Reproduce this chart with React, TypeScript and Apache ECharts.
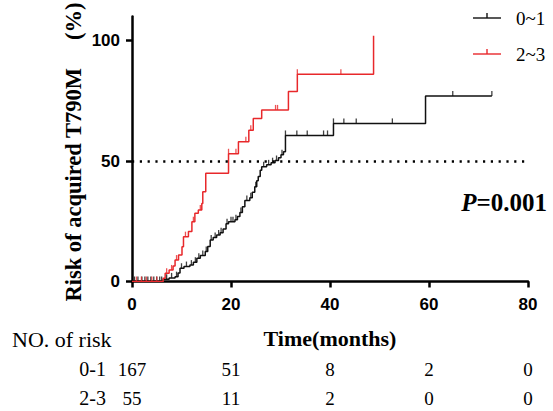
import React, { useEffect, useRef } from "react";
import * as echarts from "echarts";

// ---- data ----
const groupNames = ["0~1", "2~3"];
const groupColors = ["#111111", "#e8282b"];

// cumulative risk (%) steps: [time (months), value after the step]
const curve01: [number, number][] = [
  [0, 0], [6.3, 0.9], [7.5, 1.5], [8.7, 2.0], [9.3, 3.5], [9.7, 5.5], [10.5, 6.2],
  [11.7, 6.8], [12.4, 8.0], [13.1, 9.6], [13.8, 10.8], [14.8, 12.4], [15.3, 14.5],
  [15.8, 17.2], [16.4, 18.3], [17.1, 19.3], [17.8, 20.2], [18.4, 21.8], [19.0, 24.0],
  [19.5, 24.8], [20.8, 25.6], [21.3, 27.0], [21.8, 28.6], [22.3, 31.0], [22.8, 33.6],
  [23.8, 34.8], [24.3, 37.0], [24.8, 39.3], [25.2, 41.8], [25.5, 43.6], [25.9, 46.2],
  [26.2, 47.6], [27.2, 48.4], [28.1, 49.3], [28.9, 50.2], [29.6, 51.4], [30.1, 52.6],
  [30.6, 53.8], [31.0, 60.6], [40.7, 65.6], [59.3, 77.0], [72.7, 77.0],
];
const curve23: [number, number][] = [
  [0, 0], [6.3, 1.3], [6.7, 3.4], [7.5, 4.8], [8.3, 6.4], [8.7, 8.9], [9.4, 11.0],
  [10.1, 14.4], [10.4, 18.6], [11.4, 20.7], [12.1, 24.8], [12.7, 28.3], [13.4, 29.7],
  [14.1, 32.4], [14.3, 37.2], [14.9, 44.9], [19.5, 53.0], [21.5, 58.0], [23.6, 62.8],
  [24.5, 67.6], [26.2, 71.2], [31.6, 78.8], [33.4, 86.0], [48.8, 102.0],
];

// censored observation times (months)
const censor01 = [
  0.5, 1.2, 2.0, 2.6, 3.2, 3.8, 4.4, 5.0, 5.6, 6.0, 7.0, 8.0, 9.0, 10.0, 11.0, 12.0,
  12.8, 13.5, 14.3, 15.0, 16.0, 16.8, 17.5, 18.0, 19.2, 20.0, 20.4, 21.0, 22.0, 23.2,
  24.0, 25.0, 26.6, 27.6, 28.4, 29.2, 30.3, 31.0, 33.3, 35.4, 38.7, 39.5, 40.7, 42.8,
  45.3, 52.6, 64.8, 72.7,
];
const censor23 = [
  0.9, 1.9, 2.9, 4.0, 5.0, 7.0, 8.0, 9.0, 10.8, 12.4, 13.8, 19.5, 21.0, 23.0, 24.0,
  29.0, 29.4, 33.4, 42.2,
];

// number at risk table
const riskTimes = [0, 20, 40, 60, 80];
const risk01 = [167, 51, 8, 2, 0];
const risk23 = [55, 11, 2, 0, 0];
const riskRowLabels = ["0-1", "2-3"];

const xTicks = [0, 20, 40, 60, 80];
const yTicks = [0, 50, 100];
const pValueText = "=0.001";

const SERIF = "'Liberation Serif', 'Times New Roman', serif";
const SANS = "'Liberation Sans', Arial, sans-serif";

function stepValue(curve: [number, number][], t: number): number {
  let v = 0;
  for (const [x, y] of curve) if (x <= t) v = y;
  return v;
}

export default function App() {
  const ref = useRef<HTMLDivElement>(null);

  useEffect(() => {
    if (!ref.current) return;
    const chart = echarts.init(ref.current, undefined, { renderer: "svg" });

    const curves = [curve01, curve23];
    const censors = [censor01, censor23];

    const lineSeries: any[] = curves.map((c, i) => ({
      type: "line",
      name: groupNames[i],
      step: "end",
      data: c,
      showSymbol: false,
      symbol: "none",
      z: 3 + i,
      lineStyle: { color: groupColors[i], width: 1.5 },
      itemStyle: { color: groupColors[i] },
      ...(i === 0
        ? {
            markLine: {
              silent: true,
              symbol: "none",
              label: { show: false },
              lineStyle: { color: "#000", type: [2.2, 5.6], width: 2.6 },
              data: [{ yAxis: 50 }],
            },
          }
        : {}),
    }));

    const censorSeries: any[] = censors.map((cs, i) => ({
      type: "scatter",
      name: groupNames[i] + " censored",
      data: cs.map((t) => [t, stepValue(curves[i], t)]),
      symbol: "rect",
      symbolSize: [1.3, 5],
      symbolOffset: [0, -2.5],
      z: 3 + i,
      itemStyle: { color: groupColors[i] },
    }));

    const riskAxis = (vals: number[], margin: number) => ({
      type: "value",
      min: 0,
      max: 80,
      interval: 20,
      position: "bottom",
      axisLine: { show: false },
      axisTick: { show: false },
      splitLine: { show: false },
      axisLabel: {
        margin,
        fontFamily: SERIF,
        fontSize: 19,
        color: "#000",
        formatter: (v: number) => {
          const k = riskTimes.indexOf(v);
          return k >= 0 ? String(vals[k]) : "";
        },
      },
    });

    const legendGraphics: any[] = [];
    groupNames.forEach((n, i) => {
      const y = 18 + i * 36;
      legendGraphics.push(
        { type: "line", shape: { x1: 473, y1: y, x2: 501, y2: y }, style: { stroke: groupColors[i], lineWidth: 1.4 } },
        { type: "line", shape: { x1: 487, y1: y - 5, x2: 487, y2: y }, style: { stroke: groupColors[i], lineWidth: 1.4 } },
        {
          type: "text",
          x: 516,
          y,
          style: { text: n, fontFamily: SERIF, fontSize: 19, fill: "#000", textAlign: "left", textVerticalAlign: "middle" },
        }
      );
    });

    const option: any = {
      animation: false,
      grid: { left: 132, right: 25, top: 16.4, bottom: 129.5, containLabel: false },
      xAxis: [
        {
          type: "value",
          min: 0,
          max: 80,
          interval: 20,
          position: "bottom",
          name: "Time(months)",
          nameLocation: "middle",
          nameGap: 46,
          nameTextStyle: { fontFamily: SERIF, fontWeight: "bold", fontSize: 22, color: "#000" },
          axisLine: { show: true, onZero: false, lineStyle: { color: "#000", width: 2.5 } },
          axisTick: { show: true, length: 6, lineStyle: { color: "#000", width: 2.5 } },
          axisLabel: {
            margin: 14,
            fontFamily: SANS,
            fontWeight: "bold",
            fontSize: 17,
            color: "#000",
            customValues: xTicks,
          },
          splitLine: { show: false },
        },
        riskAxis(risk01, 78),
        riskAxis(risk23, 107),
      ],
      yAxis: {
        type: "value",
        min: 0,
        max: 110,
        axisLine: { show: true, onZero: false, lineStyle: { color: "#000", width: 2.5 } },
        axisTick: { show: true, length: 6, customValues: yTicks, lineStyle: { color: "#000", width: 2.5 } },
        axisLabel: {
          margin: 12,
          fontFamily: SANS,
          fontWeight: "bold",
          fontSize: 17,
          color: "#000",
          customValues: yTicks,
        },
        splitLine: { show: false },
      },
      series: [...lineSeries, ...censorSeries],
      graphic: [
        {
          type: "text",
          x: 73,
          y: 152,
          rotation: Math.PI / 2,
          style: {
            text: "Risk of acquired T790M\u00a0\u00a0\u00a0\u00a0\u00a0(%)",
            fontFamily: SERIF,
            fontWeight: "bold",
            fontSize: 22.5,
            fill: "#000",
            textAlign: "center",
            textVerticalAlign: "middle",
          },
        },
        {
          type: "text",
          x: 547,
          y: 202,
          style: {
            text: "{i|P}{b|" + pValueText + "}",
            textAlign: "right",
            textVerticalAlign: "middle",
            rich: {
              i: { fontFamily: SERIF, fontWeight: "bold", fontStyle: "italic", fontSize: 25, fill: "#000" },
              b: { fontFamily: SERIF, fontWeight: "bold", fontSize: 25, fill: "#000" },
            },
          },
        },
        {
          type: "text",
          x: 12,
          y: 339,
          style: { text: "NO. of risk", fontFamily: SERIF, fontSize: 22, fill: "#000", textAlign: "left", textVerticalAlign: "middle" },
        },
        ...riskRowLabels.map((t, i) => ({
          type: "text",
          x: 106,
          y: 369 + i * 29,
          style: { text: t, fontFamily: SERIF, fontSize: 20, fill: "#000", textAlign: "right", textVerticalAlign: "middle" },
        })),
        ...legendGraphics,
      ],
    };

    chart.setOption(option);
    return () => chart.dispose();
  }, []);

  return (
    <div
      ref={ref}
      style={{ position: "absolute", left: 0, top: 0, width: 553, height: 411, background: "#fff" }}
    />
  );
}
